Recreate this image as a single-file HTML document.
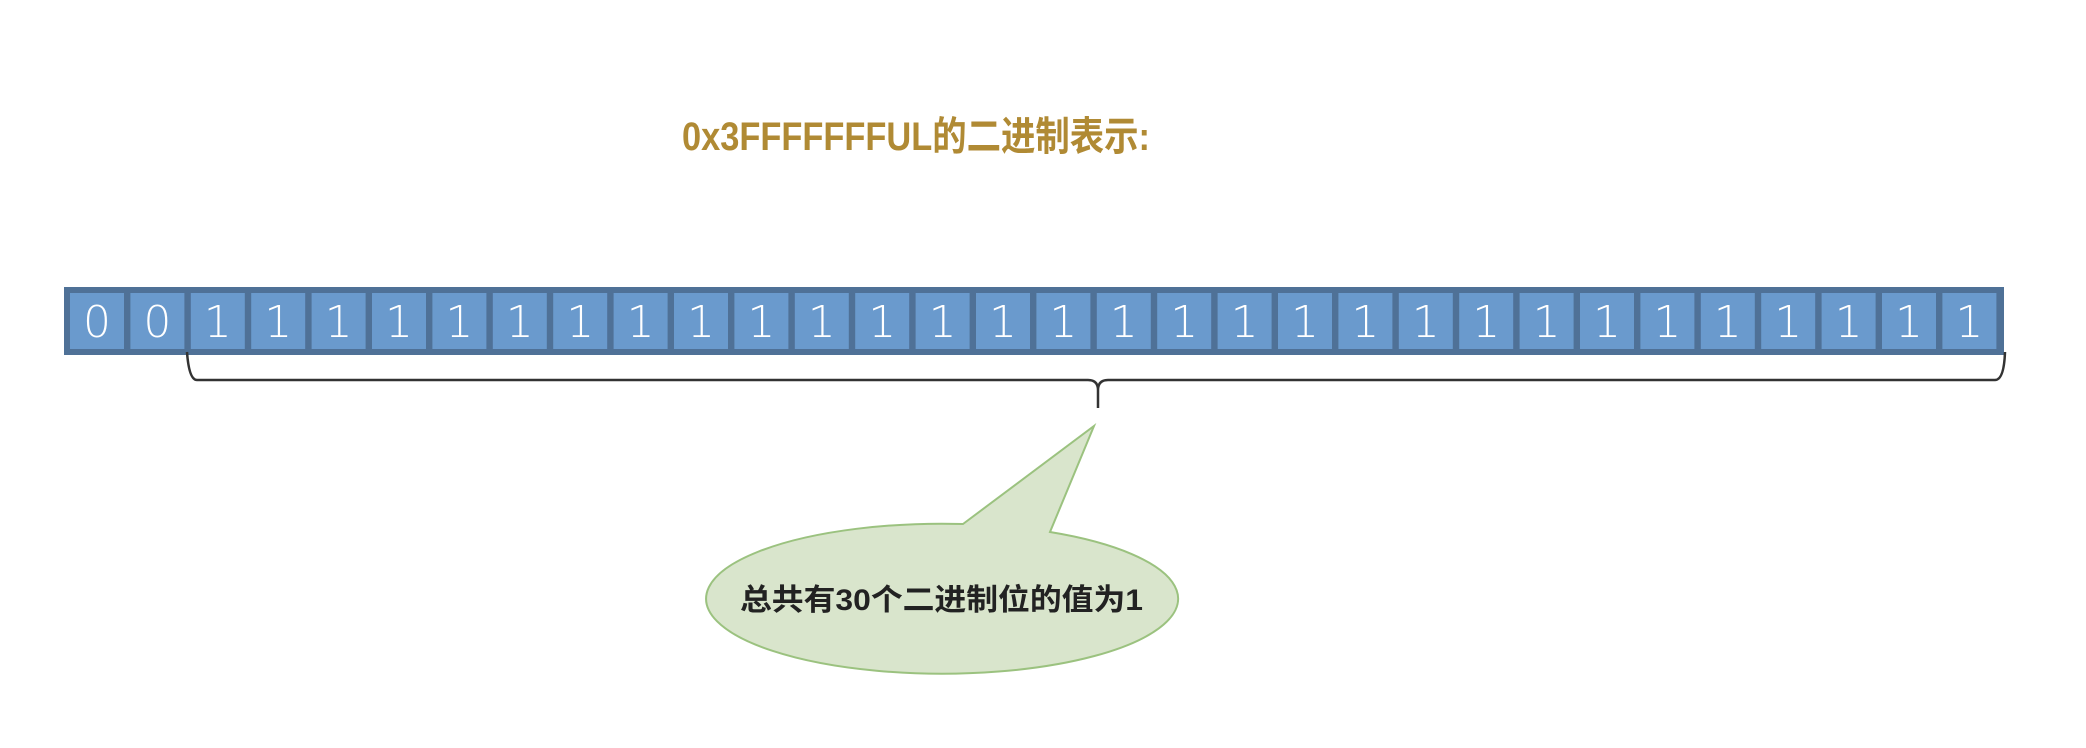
<!DOCTYPE html>
<html><head><meta charset="utf-8"><style>
html,body{margin:0;padding:0;background:#fff;width:2086px;height:748px;overflow:hidden}
svg{display:block}
</style></head><body>
<svg width="2086" height="748" xmlns="http://www.w3.org/2000/svg">
<text x="682" y="150" font-family="'Liberation Sans','Noto Sans CJK SC',sans-serif" font-size="40" font-weight="bold" fill="#b08a34" textLength="468" lengthAdjust="spacingAndGlyphs">0x3FFFFFFFUL的二进制表示:</text>
<rect x="64" y="287" width="1940" height="68" fill="#4f7197"/>
<g fill="#6a9acd">
<rect x="70" y="293" width="54" height="56"/><rect x="130.4" y="293" width="54" height="56"/><rect x="190.8" y="293" width="54" height="56"/><rect x="251.2" y="293" width="54" height="56"/><rect x="311.6" y="293" width="54" height="56"/><rect x="372" y="293" width="54" height="56"/><rect x="432.4" y="293" width="54" height="56"/><rect x="492.8" y="293" width="54" height="56"/><rect x="553.2" y="293" width="54" height="56"/><rect x="613.6" y="293" width="54" height="56"/><rect x="674" y="293" width="54" height="56"/><rect x="734.4" y="293" width="54" height="56"/><rect x="794.8" y="293" width="54" height="56"/><rect x="855.2" y="293" width="54" height="56"/><rect x="915.6" y="293" width="54" height="56"/><rect x="976" y="293" width="54" height="56"/><rect x="1036.4" y="293" width="54" height="56"/><rect x="1096.8" y="293" width="54" height="56"/><rect x="1157.2" y="293" width="54" height="56"/><rect x="1217.6" y="293" width="54" height="56"/><rect x="1278" y="293" width="54" height="56"/><rect x="1338.4" y="293" width="54" height="56"/><rect x="1398.8" y="293" width="54" height="56"/><rect x="1459.2" y="293" width="54" height="56"/><rect x="1519.6" y="293" width="54" height="56"/><rect x="1580" y="293" width="54" height="56"/><rect x="1640.4" y="293" width="54" height="56"/><rect x="1700.8" y="293" width="54" height="56"/><rect x="1761.2" y="293" width="54" height="56"/><rect x="1821.6" y="293" width="54" height="56"/><rect x="1882" y="293" width="54" height="56"/><rect x="1942.4" y="293" width="54" height="56"/>
</g>
<g font-family="'DejaVu Sans','Liberation Sans',sans-serif" font-size="44" font-weight="300" fill="#fff" text-anchor="middle">
<text x="97" y="337">0</text><text x="157.4" y="337">0</text><text x="217.8" y="337">1</text><text x="278.2" y="337">1</text><text x="338.6" y="337">1</text><text x="399" y="337">1</text><text x="459.4" y="337">1</text><text x="519.8" y="337">1</text><text x="580.2" y="337">1</text><text x="640.6" y="337">1</text><text x="701" y="337">1</text><text x="761.4" y="337">1</text><text x="821.8" y="337">1</text><text x="882.2" y="337">1</text><text x="942.6" y="337">1</text><text x="1003" y="337">1</text><text x="1063.4" y="337">1</text><text x="1123.8" y="337">1</text><text x="1184.2" y="337">1</text><text x="1244.6" y="337">1</text><text x="1305" y="337">1</text><text x="1365.4" y="337">1</text><text x="1425.8" y="337">1</text><text x="1486.2" y="337">1</text><text x="1546.6" y="337">1</text><text x="1607" y="337">1</text><text x="1667.4" y="337">1</text><text x="1727.8" y="337">1</text><text x="1788.2" y="337">1</text><text x="1848.6" y="337">1</text><text x="1909" y="337">1</text><text x="1969.4" y="337">1</text>
</g>
<path d="M187 352 Q189 380 197 380 L1088 380 Q1098 380 1098 390 L1098 408 M1098 390 Q1098 380 1108 380 L1995 380 Q2004 380 2005 352" fill="none" stroke="#333" stroke-width="2.5"/>
<path d="M963 524 L1094 426 L1050 532 A236 75 0 1 1 963 524 Z" fill="#d9e5cc" stroke="#9bc27f" stroke-width="2"/>
<text x="740" y="610" font-family="'Liberation Sans','Noto Sans CJK SC',sans-serif" font-size="30" font-weight="bold" fill="#222" textLength="403" lengthAdjust="spacingAndGlyphs">总共有30个二进制位的值为1</text>
</svg>
</body></html>
